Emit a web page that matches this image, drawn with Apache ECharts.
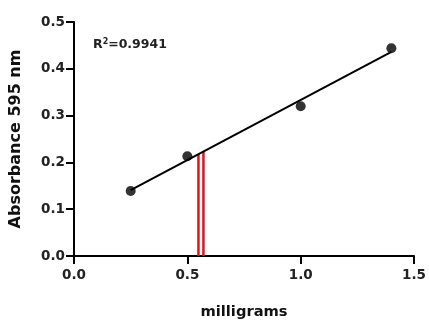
<!DOCTYPE html>
<html>
<head>
<meta charset="utf-8">
<script src="https://cdn.jsdelivr.net/npm/echarts@6/dist/echarts.min.js"></script>
<style>
html,body{margin:0;padding:0;background:#fff;}
#chart{width:429px;height:325px;}
</style>
</head>
<body>
<div id="chart"></div>
<script>
// Data
var pointX = [0.25, 0.5, 1.0, 1.4];
var pointY = [0.139, 0.213, 0.320, 0.444];
var fitX = [0.25, 1.4];
var fitY = [0.141, 0.436];
var markerX = [0.549, 0.571];
var markerTop = [0.217, 0.223];
var xTicks = [0.0, 0.5, 1.0, 1.5];
var yTicks = [0.0, 0.1, 0.2, 0.3, 0.4, 0.5];
var rSquared = '0.9941';

var FONT = '"DejaVu Sans", "Liberation Sans", sans-serif';

var chart = echarts.init(document.getElementById('chart'), null, {renderer: 'canvas'});

var series = [];
markerX.forEach(function (x, i) {
  series.push({
    type: 'line',
    data: [[x, 0], [x, markerTop[i]]],
    symbol: 'none',
    lineStyle: {color: '#e3121b', width: 2.5},
    z: 1,
    animation: false
  });
});
series.push({
  type: 'line',
  data: fitX.map(function (x, i) { return [x, fitY[i]]; }),
  symbol: 'none',
  lineStyle: {color: '#000', width: 2},
  z: 2,
  animation: false
});
series.push({
  type: 'scatter',
  data: pointX.map(function (x, i) { return [x, pointY[i]]; }),
  symbol: 'circle',
  symbolSize: 10,
  itemStyle: {color: '#000'},
  z: 3,
  animation: false
});

var axisLineStyle = {color: '#000', width: 2};

chart.setOption({
  backgroundColor: '#fff',
  animation: false,
  grid: {left: 74, right: 14, top: 22, bottom: 69, containLabel: false},
  xAxis: {
    type: 'value',
    min: xTicks[0],
    max: xTicks[xTicks.length - 1],
    interval: 0.5,
    name: 'milligrams',
    nameLocation: 'middle',
    nameGap: 49,
    nameTextStyle: {fontFamily: FONT, fontWeight: 'bold', fontSize: 14.7, color: '#111'},
    axisLine: {show: true, onZero: false, lineStyle: axisLineStyle},
    axisTick: {show: true, inside: false, length: 8, lineStyle: axisLineStyle},
    axisLabel: {
      fontFamily: FONT, fontWeight: 'bold', fontSize: 13.5, color: '#222', margin: 12,
      formatter: function (v) { return v.toFixed(1); }
    },
    splitLine: {show: false}
  },
  yAxis: {
    type: 'value',
    min: yTicks[0],
    max: yTicks[yTicks.length - 1],
    interval: 0.1,
    name: 'Absorbance 595 nm',
    nameLocation: 'middle',
    nameGap: 50,
    nameRotate: 90,
    nameTextStyle: {fontFamily: FONT, fontWeight: 'bold', fontSize: 16, color: '#111'},
    axisLine: {show: true, onZero: false, lineStyle: axisLineStyle},
    axisTick: {show: true, inside: false, length: 8, lineStyle: axisLineStyle},
    axisLabel: {
      fontFamily: FONT, fontWeight: 'bold', fontSize: 13.5, color: '#222', margin: 9,
      formatter: function (v) { return v.toFixed(1); }
    },
    splitLine: {show: false}
  },
  graphic: [{
    type: 'text',
    left: 93,
    top: 38,
    style: {
      text: 'R{sup|2}=' + rSquared,
      fontFamily: FONT,
      fontWeight: 'bold',
      fontSize: 12.5,
      fill: '#222',
      rich: {
        sup: {fontFamily: FONT, fontWeight: 'bold', fontSize: 8, verticalAlign: 'top', fill: '#222'}
      }
    }
  }],
  series: series
});
</script>
</body>
</html>
